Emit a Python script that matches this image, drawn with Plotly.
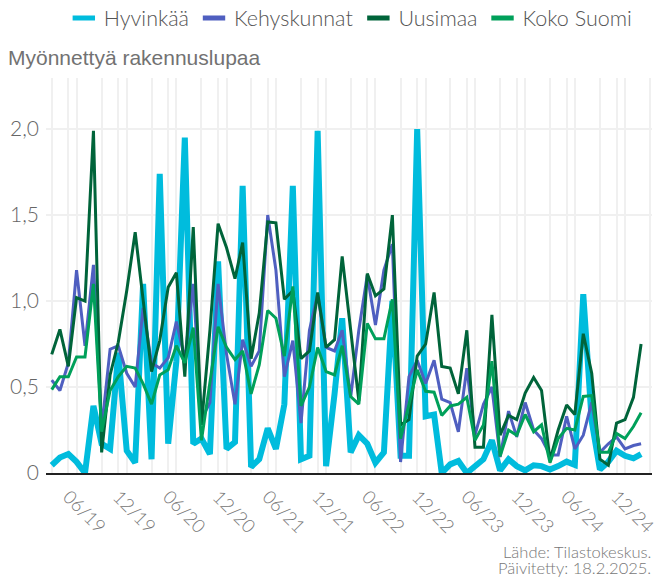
import pandas as pd
import plotly.graph_objects as go

# ---- data (monthly values) ----
months = pd.date_range("2019-04-01", periods=72, freq="MS")

hyvinkaa = [0.045, 0.09, 0.11, 0.065, 0.0, 0.39, 0.17, 0.14, 0.70, 0.13,
            0.06, 1.10, 0.08, 1.74, 0.17, 0.65, 1.95, 0.17, 0.20, 0.11,
            1.23, 0.14, 0.18, 1.67, 0.035, 0.08, 0.26, 0.14, 0.40, 1.67,
            0.08, 0.10, 1.99, 0.04, 0.46, 0.90, 0.12, 0.22, 0.17, 0.06,
            0.12, 1.00, 0.10, 0.10, 2.00, 0.33, 0.34, 0.0, 0.05, 0.07,
            0.0, 0.045, 0.08, 0.19, 0.015, 0.08, 0.04, 0.015, 0.045, 0.04,
            0.02, 0.04, 0.066, 0.047, 1.04, 0.30, 0.02, 0.066, 0.13, 0.10,
            0.085, 0.11]

kehyskunnat = [0.54, 0.48, 0.64, 1.18, 0.74, 1.21, 0.26, 0.72, 0.74, 0.58,
               0.50, 0.96, 0.64, 0.61, 0.67, 0.88, 0.66, 1.10, 0.31, 0.41,
               1.10, 0.69, 0.40, 0.775, 0.62, 0.71, 1.50, 1.18, 0.56, 0.77,
               0.29, 0.83, 1.04, 0.73, 0.71, 0.83, 0.44, 0.83, 1.15, 0.86,
               1.18, 1.33, 0.064, 0.56, 0.655, 0.52, 0.655, 0.43, 0.41, 0.24,
               0.61, 0.22, 0.40, 0.50, 0.093, 0.36, 0.21, 0.41, 0.25, 0.20,
               0.105, 0.105, 0.33, 0.14, 0.22, 0.41, 0.12, 0.17, 0.21, 0.14,
               0.16, 0.17]

uusimaa = [0.69, 0.835, 0.62, 1.02, 1.00, 1.99, 0.12, 0.57, 0.76, 1.06,
           1.40, 1.02, 0.59, 0.77, 1.08, 1.165, 0.56, 1.43, 0.28, 0.83,
           1.45, 1.31, 1.13, 1.34, 0.665, 0.93, 1.46, 1.455, 1.01, 1.06,
           0.665, 0.71, 1.05, 0.73, 0.775, 1.26, 0.85, 0.42, 1.16, 1.03,
           1.07, 1.50, 0.28, 0.31, 0.68, 0.75, 1.05, 0.62, 0.61, 0.46,
           0.83, 0.15, 0.15, 0.92, 0.22, 0.335, 0.31, 0.465, 0.555, 0.48,
           0.075, 0.25, 0.395, 0.34, 0.81, 0.58, 0.08, 0.045, 0.29, 0.31,
           0.44, 0.75]

koko_suomi = [0.485, 0.56, 0.56, 0.675, 0.675, 1.10, 0.24, 0.48, 0.56, 0.62,
              0.61, 0.52, 0.40, 0.57, 0.60, 0.74, 0.64, 0.845, 0.19, 0.54,
              0.85, 0.73, 0.66, 0.71, 0.46, 0.63, 0.945, 0.90, 0.68, 1.085,
              0.39, 0.50, 0.73, 0.59, 0.57, 0.74, 0.445, 0.40, 0.87, 0.78,
              0.78, 1.01, 0.20, 0.40, 0.60, 0.475, 0.47, 0.335, 0.39, 0.40,
              0.44, 0.19, 0.28, 0.65, 0.097, 0.25, 0.22, 0.34, 0.24, 0.28,
              0.06, 0.20, 0.26, 0.25, 0.445, 0.45, 0.12, 0.12, 0.23, 0.20,
              0.27, 0.35]

series_names = ["Hyvinkää", "Kehyskunnat", "Uusimaa", "Koko Suomi"]
series_values = [hyvinkaa, kehyskunnat, uusimaa, koko_suomi]
series_colors = ["#00bcdd", "#4f5fc0", "#00643a", "#00a05a"]
series_widths = [6, 3, 3, 3]

y_tickvals = [0, 0.5, 1.0, 1.5, 2.0]
y_ticktext = ["0", "0,5", "1,0", "1,5", "2,0"]

source_lines = ["Lähde: Tilastokeskus.", "Päivitetty: 18.2.2025."]

FONT = "Lato"
fig = go.Figure()

for name, vals, col, w in zip(series_names, series_values, series_colors, series_widths):
    fig.add_trace(go.Scatter(x=months, y=vals, mode="lines", name=name,
                             line=dict(color=col, width=w), showlegend=False))

# legend entries (short thick bars)
for name, col in zip(series_names, series_colors):
    fig.add_trace(go.Scatter(x=[None], y=[None], mode="markers", name=name,
                             marker=dict(symbol="line-ew", size=16,
                                         line=dict(width=5, color=col)),
                             showlegend=True))

fig.update_layout(
    width=659, height=578,
    margin=dict(l=46, r=7, t=78, b=105),
    paper_bgcolor="white", plot_bgcolor="white",
    font=dict(family=FONT, color="#666666", weight=300),
    title=dict(text="Myönnettyä rakennuslupaa", x=8/659, xanchor="left",
               xref="container", y=1 - 58/578, yanchor="middle", yref="container",
               font=dict(family="Liberation Sans", size=21, color="#727272", weight=400)),
    legend=dict(orientation="h", x=0.503, xanchor="center",
                y=1 - 18/578, yanchor="middle", yref="container",
                font=dict(family=FONT, size=21.5, color="#555555", weight=300),
                itemwidth=30, traceorder="normal"),
    showlegend=True,
)

fig.update_xaxes(
    type="date", automargin=False,
    range=["2019-03-11", "2025-04-10"],
    tick0="2019-06-01", dtick="M6", tickformat="%m/%y", tickangle=45,
    ticklabelstandoff=4, ticklabeloverflow="allow",
    showgrid=True, gridcolor="#f0f0f0", gridwidth=2,
    minor=dict(dtick="M3", showgrid=True, gridcolor="#f0f0f0", gridwidth=2),
    showline=True, linecolor="#222222", linewidth=1.5,
    ticks="", tickfont=dict(family=FONT, size=18.5, color="#777777", weight=300),
    zeroline=False,
)
fig.update_yaxes(
    range=[0, 2.297], automargin=False,
    tickvals=y_tickvals, ticktext=y_ticktext, ticklabelstandoff=6,
    showgrid=True, gridcolor="#f0f0f0", gridwidth=2,
    zeroline=False, showline=False, ticks="",
    tickfont=dict(family=FONT, size=21, color="#666666", weight=300),
)

for line, ypix in zip(source_lines, [552, 568]):
    fig.add_annotation(
        text=line, xref="paper", yref="paper", x=1.0, y=(473 - ypix) / 395,
        xanchor="right", yanchor="middle", align="right", showarrow=False,
        borderpad=0,
        font=dict(family=FONT, size=16.5, color="#777777", weight=300),
    )

fig.write_html("out.html", config={"displayModeBar": False},
               post_script="document.body.style.margin='0';document.body.style.padding='0';")
